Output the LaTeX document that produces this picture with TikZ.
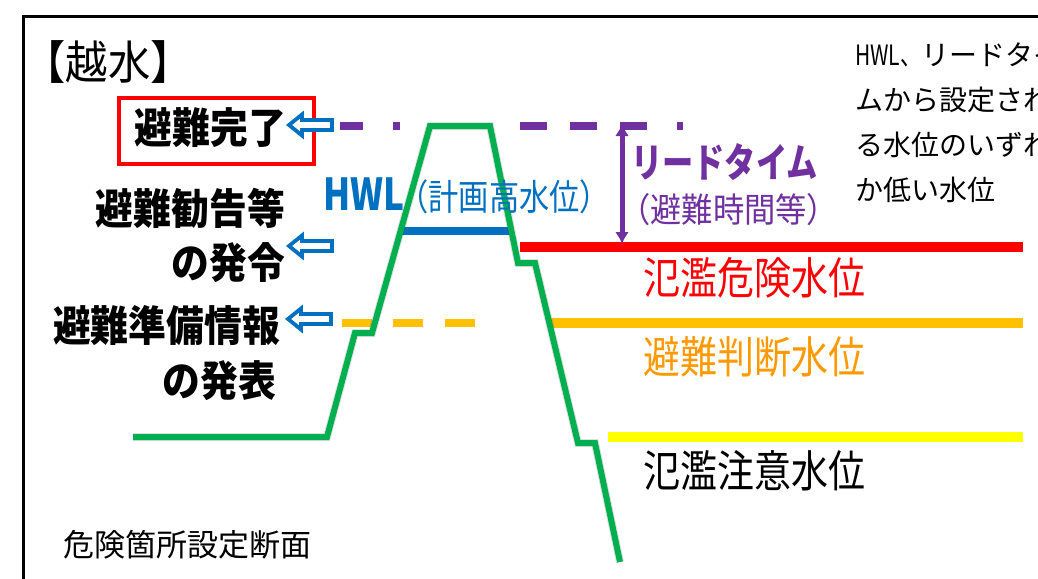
\documentclass[tikz,border=0pt]{standalone}
\usepackage{fontspec}
\setmainfont{Noto Sans CJK JP}
\usetikzlibrary{arrows.meta}
\definecolor{cgreen}{RGB}{0,176,80}
\definecolor{cpurple}{RGB}{112,48,160}
\definecolor{cred}{RGB}{255,0,0}
\definecolor{corange}{RGB}{255,192,0}
\definecolor{ctorange}{RGB}{255,153,0}
\definecolor{cyellow}{RGB}{255,255,0}
\definecolor{cblue}{RGB}{0,112,192}
\newcommand{\cnd}[2]{\scalebox{#1}[1]{#2}}
\tikzset{
  lvl/.style={line width=10pt},
  dsh/.style={line width=8pt},
  lbl/.style={inner sep=0pt, font=\bfseries\fontsize{42}{42}\selectfont, anchor=east},
  wl/.style={inner sep=0pt, font=\fontsize{44}{44}\selectfont, anchor=west},
  barrow/.pic={\draw[cblue, line width=3.8pt, fill=white, line join=miter]
     (0,0) -- (13,-10.5) -- (13,-5) -- (43,-5) -- (43,5) -- (13,5) -- (13,10.5) -- cycle;}
}
\begin{document}
\begin{tikzpicture}[x=1pt,y=-1pt]
\useasboundingbox (0,0) rectangle (1038,578);
\clip (0,0) rectangle (1038,578);
\fill[white] (0,0) rectangle (1038,578);
% frame
\draw[line width=3pt] (23.5,580) -- (23.5,16.5) -- (1040,16.5);

% level lines
\coordinate (r1) at (520,247); \coordinate (r2) at (1023,247);
\coordinate (o1) at (548,323); \coordinate (o2) at (1023,323);
\coordinate (y1) at (608,437); \coordinate (y2) at (1023,437);
\draw[lvl, cred] (r1) -- (r2);
\draw[lvl, corange] (o1) -- (o2);
\draw[lvl, cyellow] (y1) -- (y2);

% dashed orange
\foreach \a/\b in {342/372, 393/423, 445/475}
  \draw[dsh, corange] (\a,323) -- (\b,323);
% dashed purple
\foreach \a/\b in {340/363, 393/400, 520/547, 570/597, 620/647, 677/683}
  \draw[dsh, cpurple] (\a,126) -- (\b,126);

% HWL line
\coordinate (h1) at (400,231); \coordinate (h2) at (512,231);
\draw[line width=8pt, cblue] (h1) -- (h2);

% embankment
\coordinate (A) at (133,437); \coordinate (B) at (327,437);
\coordinate (C) at (355,333); \coordinate (D) at (372,333);
\coordinate (E) at (430,126); \coordinate (F) at (490,126);
\coordinate (G) at (518,263); \coordinate (H) at (535,263);
\coordinate (I) at (578,443); \coordinate (J) at (595,443);
\coordinate (K) at (620,562);
\draw[line width=8pt, black, opacity=0.12, line join=miter, shift={(4,4)}]
  (A) -- (B) -- (C) -- (D) -- (E) -- (F) -- (G) -- (H) -- (I) -- (J) -- (K);
\draw[line width=6pt, cgreen, line join=miter]
  (A) -- (B) -- (C) -- (D) -- (E) -- (F) -- (G) -- (H) -- (I) -- (J) -- (K);

% lead time arrow
\coordinate (lt1) at (622,124); \coordinate (lt2) at (622,244);
\draw[line width=5pt, cpurple, {Latex[length=12pt,width=14pt]}-{Latex[length=12pt,width=14pt]}] (lt1) -- (lt2);

% texts
\node[inner sep=0pt, font=\fontsize{46}{46}\selectfont] (title) at (108,62) {\cnd{0.92}{【越水】}};
\node[lbl] (kanryo) at (286,128) {\cnd{0.9}{避難完了}};
\node[draw=cred, line width=4pt, minimum width=195pt, minimum height=66pt] (kbox) at (216.5,131) {};
\node[lbl] (kankoku1) at (285,208) {\cnd{0.9}{避難勧告等}};
\node[lbl] (kankoku2) at (285,263) {\cnd{0.9}{の発令}};
\node[lbl] (junbi1) at (280,326) {\cnd{0.9}{避難準備情報}};
\node[lbl] (junbi2) at (276,381) {\cnd{0.9}{の発表}};

\pic at (289,125) {barrow};
\pic at (289,246) {barrow};
\pic at (288,319) {barrow};

\node[inner sep=0pt, anchor=west, text=cblue] (hwl) at (323,196)
  {\cnd{0.8}{\fontsize{44}{44}\selectfont\bfseries HWL}\kern-6pt\cnd{0.84}{\fontsize{36}{36}\selectfont （計画高水位）}};

\node[inner sep=0pt, anchor=west, text=cpurple, font=\bfseries\fontsize{40}{40}\selectfont] (lead) at (631,162) {\cnd{0.78}{リードタイム}};
\node[inner sep=0pt, anchor=west, text=cpurple, font=\fontsize{34}{34}\selectfont] (leadsub) at (619,210) {\cnd{0.92}{（避難時間等）}};

\node[wl, text=cred] (hanran) at (643,278) {\cnd{0.84}{氾濫危険水位}};
\node[wl, text=ctorange] (handan) at (643,357) {\cnd{0.84}{避難判断水位}};
\node[wl, text=black] (chui) at (643,471) {\cnd{0.84}{氾濫注意水位}};

\node[inner sep=0pt, anchor=north west, align=left, font=\fontsize{28}{45}\selectfont] (note) at (855,43)
  {\cnd{0.75}{HWL、}リードタイ\\ムから設定され\\る水位のいずれ\\か低い水位};

\node[inner sep=0pt, anchor=west, font=\fontsize{31}{31}\selectfont] (sect) at (63,545) {危険箇所設定断面};
\end{tikzpicture}
\end{document}
